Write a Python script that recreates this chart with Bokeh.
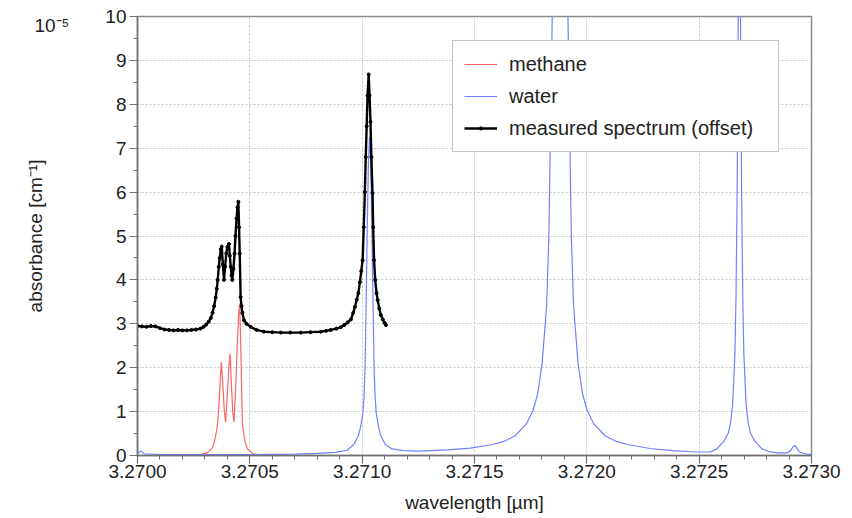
from bokeh.plotting import figure
from bokeh.models import (Range1d, FixedTicker, PrintfTickFormatter, Legend, LegendItem,
                          LinearAxis)
from bokeh.embed import file_html
from bokeh.resources import INLINE

# ---------------- data ----------------
x_ticks = [3.2700, 3.2705, 3.2710, 3.2715, 3.2720, 3.2725, 3.2730]
y_ticks = [0, 1, 2, 3, 4, 5, 6, 7, 8, 9, 10]

methane_wl = [3.270000, 3.270200, 3.270280, 3.270310, 3.270330, 3.270340, 3.270348,
              3.270355, 3.270362, 3.270368, 3.270373, 3.270380, 3.270386, 3.270392,
              3.270398, 3.270405, 3.270412, 3.270418, 3.270424, 3.270429, 3.270436,
              3.270444, 3.270450, 3.270455, 3.270460, 3.270467, 3.270474, 3.270481,
              3.270490, 3.270504, 3.270520, 3.270560, 3.270600, 3.273000]
methane_abs = [0.00, 0.00, 0.02, 0.06, 0.15, 0.27, 0.45,
               0.65, 1.10, 1.70, 2.13, 1.60, 1.05, 0.76,
               1.20, 1.90, 2.32, 1.60, 1.00, 0.76, 1.40,
               2.50, 3.20, 3.46, 2.40, 0.73, 0.45, 0.27,
               0.15, 0.08, 0.03, 0.01, 0.00, 0.00]

water_wl = [3.270000, 3.270015, 3.270030, 3.270100, 3.270300, 3.270500, 3.270700,
            3.270800, 3.270880, 3.270933, 3.270963, 3.270983, 3.270993, 3.271003,
            3.271008, 3.271013, 3.271018, 3.271023, 3.271028, 3.271033, 3.271038,
            3.271043, 3.271048, 3.271053, 3.271058, 3.271063, 3.271073, 3.271083,
            3.271103, 3.271133, 3.271183, 3.271250,
            3.271381, 3.271481, 3.271581, 3.271631, 3.271681, 3.271731, 3.271761,
            3.271781, 3.271801, 3.271821, 3.271831, 3.271846, 3.271861, 3.271881,
            3.271901, 3.271916, 3.271931, 3.271941, 3.271961, 3.271981, 3.272001,
            3.272031, 3.272081, 3.272131, 3.272181, 3.272281, 3.272381, 3.272481,
            3.272550, 3.272579, 3.272609, 3.272629, 3.272639, 3.272649, 3.272659,
            3.272664, 3.272669, 3.272674, 3.272679, 3.272684, 3.272689, 3.272694,
            3.272699, 3.272709, 3.272719, 3.272729, 3.272749, 3.272779, 3.272809,
            3.272850, 3.272890, 3.272905, 3.272918, 3.272926, 3.272934, 3.272946,
            3.272970, 3.273000]
water_abs = [0.05, 0.10, 0.04, 0.02, 0.02, 0.02, 0.03,
             0.05, 0.07, 0.12, 0.25, 0.45, 0.65, 0.95,
             1.30, 2.00, 3.60, 5.30, 6.70, 7.25, 6.70,
             5.30, 3.60, 2.00, 1.30, 0.95, 0.65, 0.45,
             0.25, 0.15, 0.11, 0.10,
             0.13, 0.17, 0.25, 0.32, 0.45, 0.72, 1.03,
             1.40, 2.10, 3.40, 5.00, 10.0, 16.0, 30.0,
             16.0, 10.0, 5.00, 3.40, 2.10, 1.40, 1.03,
             0.72, 0.45, 0.32, 0.25, 0.16, 0.11, 0.08,
             0.08, 0.15, 0.32, 0.50, 0.72, 1.15, 2.30,
             3.60, 6.00, 10.0, 14.0, 10.0, 6.00, 3.60,
             2.30, 1.15, 0.72, 0.50, 0.32, 0.15, 0.09,
             0.06, 0.06, 0.10, 0.20, 0.23, 0.18, 0.08,
             0.04, 0.02]

measured_wl = [3.270000, 3.270020, 3.270040, 3.270060, 3.270080, 3.270100, 3.270120,
               3.270140, 3.270160, 3.270180, 3.270200, 3.270220, 3.270240, 3.270260,
               3.270280, 3.270294, 3.270305, 3.270317, 3.270326, 3.270334, 3.270341,
               3.270348, 3.270353, 3.270357, 3.270362, 3.270366, 3.270371, 3.270375,
               3.270380, 3.270385, 3.270390, 3.270395, 3.270400, 3.270407, 3.270411,
               3.270415, 3.270419, 3.270422, 3.270427, 3.270432, 3.270436, 3.270441,
               3.270445, 3.270449, 3.270452, 3.270455, 3.270459, 3.270463, 3.270467,
               3.270474, 3.270485, 3.270504, 3.270530, 3.270562, 3.270600, 3.270638,
               3.270680, 3.270727, 3.270770, 3.270816, 3.270840, 3.270860, 3.270885,
               3.270905, 3.270920, 3.270935, 3.270950, 3.270960, 3.270968, 3.270976,
               3.270983, 3.270990, 3.270996, 3.271002, 3.271007, 3.271012, 3.271016,
               3.271020, 3.271024, 3.271029, 3.271033, 3.271037, 3.271041, 3.271046,
               3.271049, 3.271053, 3.271058, 3.271064, 3.271069, 3.271076, 3.271083,
               3.271092, 3.271100, 3.271106]
measured_abs = [2.95, 2.94, 2.93, 2.95, 2.94, 2.90, 2.87,
                2.86, 2.85, 2.86, 2.85, 2.85, 2.86, 2.87,
                2.89, 2.93, 2.98, 3.05, 3.13, 3.25, 3.40,
                3.60, 3.80, 4.00, 4.30, 4.50, 4.70, 4.76,
                4.35, 4.00, 4.30, 4.60, 4.75, 4.82, 4.55,
                4.30, 4.10, 4.00, 4.25, 4.60, 5.00, 5.40,
                5.65, 5.78, 5.20, 4.60, 3.61, 3.40, 3.25,
                3.08, 3.00, 2.93, 2.86, 2.82, 2.81, 2.80,
                2.80, 2.80, 2.81, 2.82, 2.84, 2.86, 2.89,
                2.92, 2.97, 3.03, 3.10, 3.25, 3.39, 3.55,
                3.70, 3.95, 4.20, 4.45, 5.20, 6.00, 6.80,
                7.50, 8.20, 8.68, 8.20, 7.60, 6.80, 5.98,
                5.20, 4.45, 4.00, 3.70, 3.54, 3.35, 3.20,
                3.10, 3.02, 2.97]

series_names = ["methane", "water", "measured spectrum (offset)"]
scale_text = "10⁻⁵"
scale_pos = [9.79]

# ---------------- figure ----------------
FONT = "Liberation Sans"
p = figure(width=852, height=518, output_backend="svg", toolbar_location=None,
           x_range=Range1d(3.2700, 3.2730), y_range=Range1d(0, 10),
           min_border_left=137, min_border_right=41, min_border_top=16,
           min_border_bottom=63)
p.background_fill_color = "white"
p.border_fill_color = "white"
p.outline_line_color = "#8a8a8a"
p.outline_line_width = 1.5

r_meth = p.line(methane_wl, methane_abs, line_color="#ff6464", line_width=1.2)
r_water = p.line(water_wl, water_abs, line_color="#6f80ff", line_width=1.2)
r_meas_l = p.line(measured_wl, measured_abs, line_color="black", line_width=2.4)
r_meas_s = p.scatter(measured_wl, measured_abs, marker="circle", size=3.0,
                     fill_color="black", line_color="black")

# axes
xminor = [round(3.2700 + 0.0001 * k, 4) for k in range(31)]
yminor = [0.5 * k for k in range(21)]
p.xaxis.ticker = FixedTicker(ticks=x_ticks, minor_ticks=xminor)
p.yaxis.ticker = FixedTicker(ticks=y_ticks, minor_ticks=yminor)
p.xaxis.formatter = PrintfTickFormatter(format="%.4f")

for ax in (p.xaxis[0], p.yaxis[0]):
    ax.axis_line_color = "#707070"
    ax.axis_line_width = 1.5
    ax.major_tick_line_color = "#707070"
    ax.minor_tick_line_color = "#707070"
    ax.major_tick_line_width = 1.2
    ax.minor_tick_line_width = 1
    ax.major_tick_in = 0
    ax.major_tick_out = 8
    ax.minor_tick_in = 0
    ax.minor_tick_out = 4
    ax.major_label_text_font = FONT
    ax.major_label_text_font_size = "19px"
    ax.major_label_text_color = "#222222"
    ax.axis_label_text_font = FONT
    ax.axis_label_text_font_size = "19px"
    ax.axis_label_text_font_style = "normal"
    ax.axis_label_text_color = "#222222"

p.xaxis.axis_label = "wavelength [µm]"
p.xaxis.major_label_standoff = 1
p.xaxis.axis_label_standoff = 11
p.yaxis.major_label_standoff = 3

# outer left axis: carries the "10^-5" scale note and the y axis title
outer = LinearAxis(ticker=FixedTicker(ticks=scale_pos, minor_ticks=[]),
                   formatter=PrintfTickFormatter(format=scale_text))
outer.axis_line_color = None
outer.major_tick_line_color = None
outer.minor_tick_line_color = None
outer.major_tick_in = 0
outer.major_tick_out = 0
outer.major_label_standoff = 33
outer.major_label_text_font = FONT
outer.major_label_text_font_size = "19px"
outer.major_label_text_color = "#222222"
outer.axis_label = "absorbance [cm⁻¹]"
outer.axis_label_standoff = -15
outer.axis_label_text_font = FONT
outer.axis_label_text_font_size = "19px"
outer.axis_label_text_font_style = "normal"
outer.axis_label_text_color = "#222222"
p.add_layout(outer, "left")

p.xgrid.grid_line_color = "#c4c4c4"
p.xgrid.grid_line_dash = "2 2"
p.ygrid.grid_line_color = "#c4c4c4"
p.ygrid.grid_line_dash = "2 2"

legend = Legend(items=[LegendItem(label=series_names[0], renderers=[r_meth]),
                       LegendItem(label=series_names[1], renderers=[r_water]),
                       LegendItem(label=series_names[2], renderers=[r_meas_l, r_meas_s])],
                location=(315, 303))
legend.label_text_font = FONT
legend.label_text_font_size = "20px"
legend.label_text_color = "#222222"
legend.glyph_width = 33
legend.glyph_height = 8
legend.label_height = 24
legend.label_width = 258
legend.label_standoff = 12
legend.spacing = 8
legend.padding = 11
legend.margin = 0
legend.border_line_color = "#8a8a8a"
legend.border_line_width = 1.5
legend.background_fill_color = "white"
legend.background_fill_alpha = 1.0
p.add_layout(legend)

open("out.html", "w").write(file_html(p, INLINE))
